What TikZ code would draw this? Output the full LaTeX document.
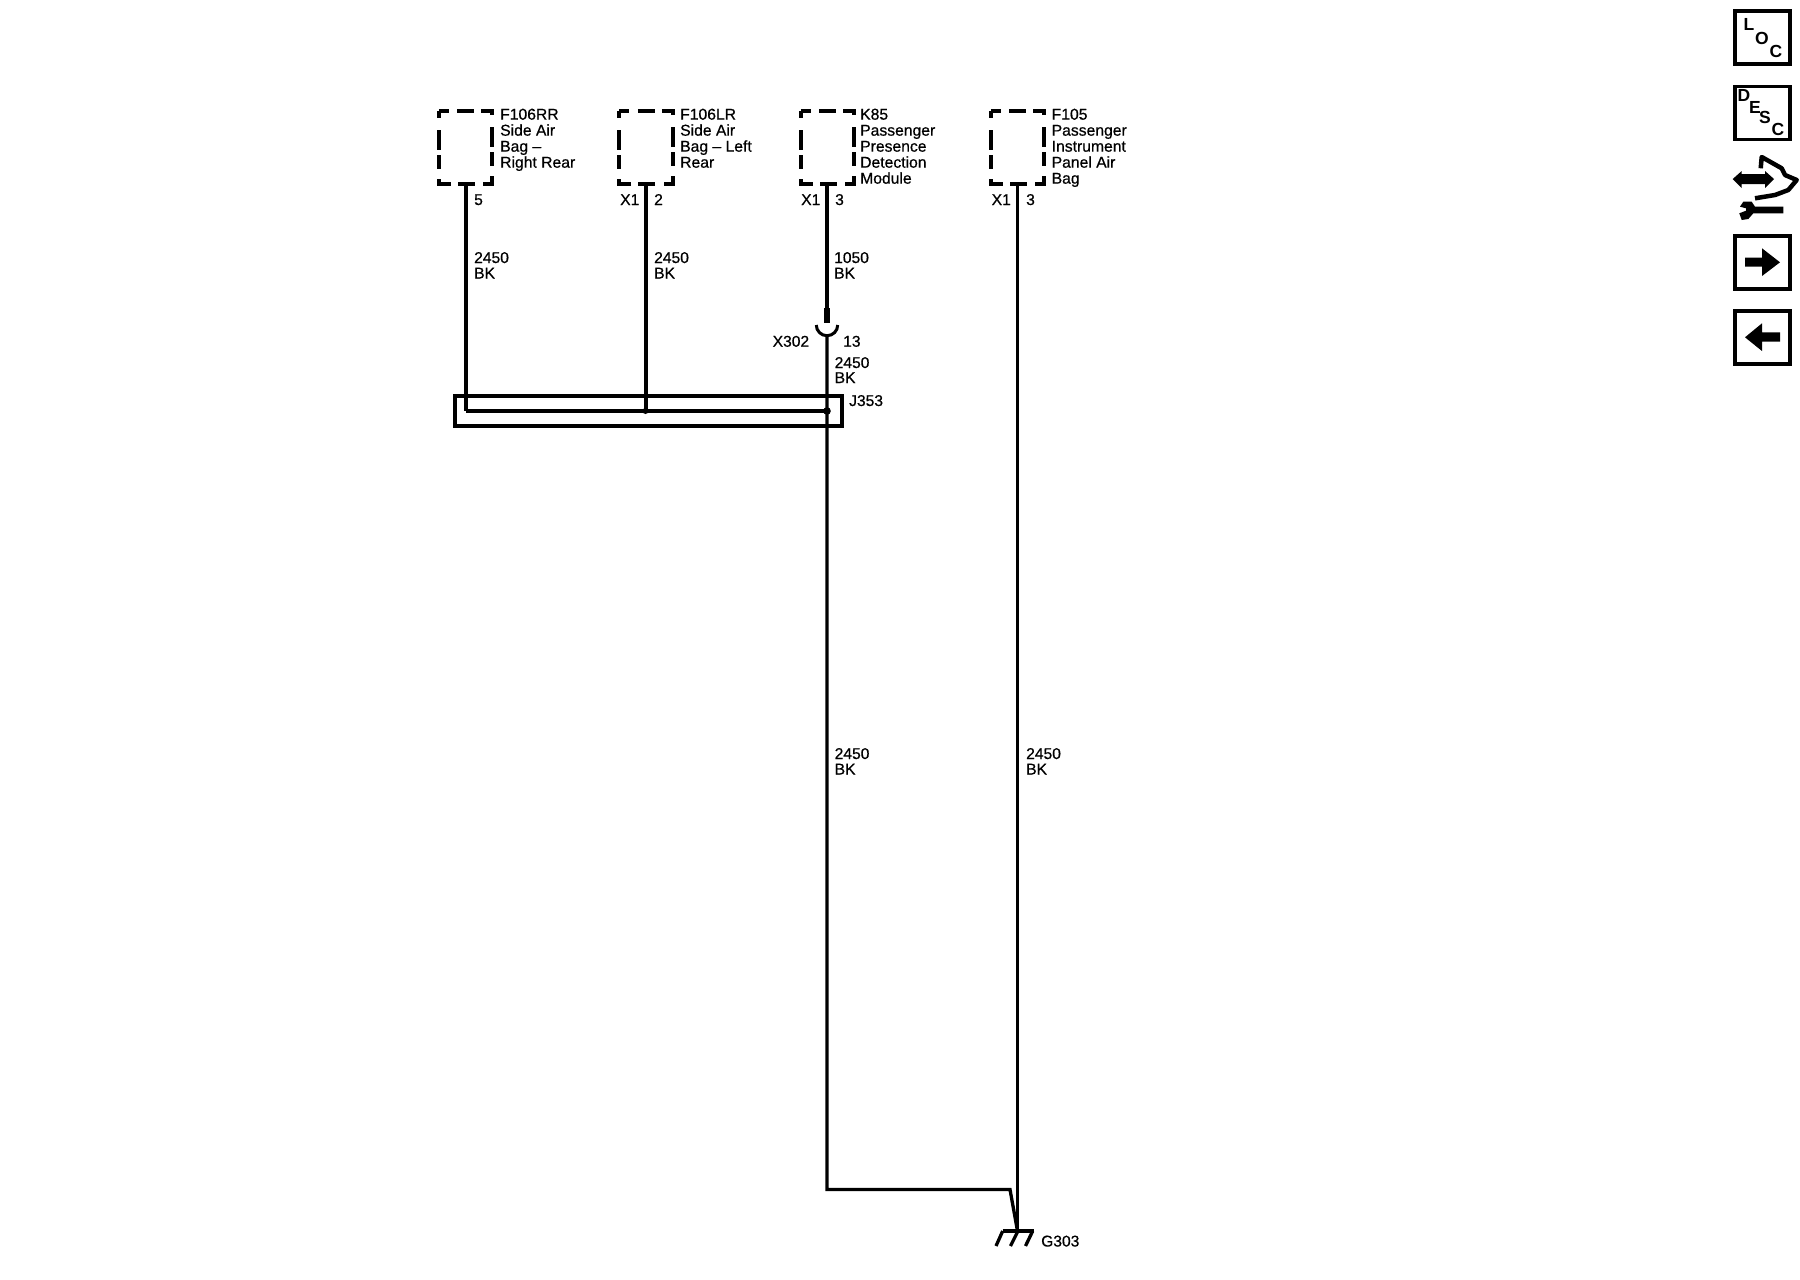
\documentclass[tikz,border=0pt]{standalone}
\usepackage{fontspec}
\setmainfont{Liberation Sans}[FakeBold=0.6]
\newfontfamily\iconfont{Liberation Sans Bold}

\tikzset{
  wire/.style={line width=3.3pt,black},
  heavywire/.style={line width=4pt,black},
  airbag/.style={draw=none,minimum width=53pt,minimum height=72.5pt,inner sep=0pt},
  boxdash/.style={line width=4pt,line join=miter,
    dash pattern=on 10pt off 8.5pt on 17pt off 7pt on 15.5pt off 12pt on 20pt off 5pt on 14pt off 10pt on 16.5pt off 8.5pt on 17pt off 7pt on 16.5pt off 10pt on 14pt off 5pt on 20pt off 12pt on 5pt off 0pt},
  lbl/.style={font=\fontsize{15.6}{16}\selectfont,inner sep=0pt,anchor=base west},
  nametxt/.style={font=\fontsize{15.7}{16}\selectfont,inner sep=0pt,anchor=north west,align=left},
  iconbox/.style={draw,line width=3.3pt,minimum width=55pt,minimum height=53pt,inner sep=0pt},
  iconchar/.style={font=\iconfont\fontsize{17.5}{18}\selectfont,inner sep=0pt}
}

\newcommand{\airbagbox}[2]{
  \node[airbag] (#1) at (#2,147.25) {};
  \draw[boxdash] (#1.north west) -- (#1.north east) -- (#1.south east) -- (#1.south west) -- cycle;
}

\begin{document}
\begin{tikzpicture}[x=1pt,y=-1pt]
  \useasboundingbox (0,0) rectangle (1800,1280);

  % components
  \airbagbox{rr}{465.5}
  \airbagbox{lr}{646}
  \airbagbox{pm}{827.5}
  \airbagbox{ip}{1017.5}
  \node[nametxt] (rrtxt) at (500,108.5) {F106RR\\Side Air\\Bag --\\Right Rear};
  \node[nametxt] (lrtxt) at (680,108.5) {F106LR\\Side Air\\Bag -- Left\\Rear};
  \node[nametxt] (pmtxt) at (860,108.5) {K85\\Passenger\\Presence\\Detection\\Module};
  \node[nametxt] (iptxt) at (1051.5,108.5) {F105\\Passenger\\Instrument\\Panel Air\\Bag};

  % pins
  \node[lbl] (p5) at (474,205) {5};
  \node[lbl] (x1a) at (620,205) {X1};
  \node[lbl] (p2) at (654,205) {2};
  \node[lbl] (x1b) at (801,205) {X1};
  \node[lbl] (p3a) at (835,205) {3};
  \node[lbl] (x1c) at (991.5,205) {X1};
  \node[lbl] (p3b) at (1026,205) {3};

  % splice and connector
  \node[draw,line width=3.3pt,minimum width=387pt,minimum height=30pt,inner sep=0pt] (j353) at (648.5,411) {};
  \coordinate (bus1) at (465.5,411);
  \coordinate (bus2) at (645.5,411);
  \coordinate (bus3) at (827,411);
  \coordinate (x302top) at (827,308);
  \coordinate (x302cup) at (827,335);
  \coordinate (bend) at (827,1189.5);
  \coordinate (bend2) at (1010,1189.5);
  \coordinate (g303) at (1017.5,1231);

  % wires
  \draw[heavywire] (rr.south) -- (bus1);
  \draw[wire,line join=miter] (bus1) -- (bus3);
  \draw[heavywire] (lr.south -| bus2) -- (bus2);
  \draw[line width=3.1pt] (pm.south -| x302top) -- (x302top);
  \draw[line width=6.5pt] (x302top) -- (827,323);
  \draw[line width=3pt] (816.3,325) arc (180:0:10.7);
  \draw[wire] (x302cup) -- (bend) -- (bend2) -- (g303);
  \draw[wire] (ip.south) -- (g303);
  \fill (bus2) circle (3pt);
  \fill (bus3) circle (3.8pt);

  % ground
  \draw[wire] (1002.7,1231) -- (1034,1231);
  \draw[wire] (1002.7,1231) -- (996,1246);
  \draw[wire] (1018,1231) -- (1010.5,1246);
  \draw[wire] (1032.7,1231) -- (1025.5,1246);
  \node[lbl] (g303txt) at (1041,1246.5) {G303};

  % wire labels
  \node[lbl] (w1a) at (474,263) {2450};
  \node[lbl] (w1b) at (474,278.5) {BK};
  \node[lbl] (w2a) at (654,263) {2450};
  \node[lbl] (w2b) at (654,278.5) {BK};
  \node[lbl] (w3a) at (834,263) {1050};
  \node[lbl] (w3b) at (834,278.5) {BK};
  \node[lbl] (x302) at (772.5,346.7) {X302};
  \node[lbl] (p13) at (843,346.7) {13};
  \node[lbl] (w4a) at (834.5,368) {2450};
  \node[lbl] (w4b) at (834.5,383) {BK};
  \node[lbl] (j353txt) at (849,406) {J353};
  \node[lbl] (w5a) at (834.5,759) {2450};
  \node[lbl] (w5b) at (834.5,774.5) {BK};
  \node[lbl] (w6a) at (1026,759) {2450};
  \node[lbl] (w6b) at (1026,774.5) {BK};

  % side icons
  \node[iconbox] (loc) at (1762.5,37.5) {};
  \node[iconchar] (locl) at (1749,24) {L};
  \node[iconchar] (loco) at (1762,38) {O};
  \node[iconchar] (locc) at (1776,51) {C};
  \node[iconbox] (desc) at (1762.5,113) {};
  \node[iconchar] (descd) at (1744,95) {D};
  \node[iconchar] (desce) at (1755,107) {E};
  \node[iconchar] (descs) at (1765,117) {S};
  \node[iconchar] (descc) at (1778,129) {C};

  \fill (1732.7,179) -- (1741.7,171) -- (1741.7,174) -- (1765,174) -- (1765,171) -- (1774,179) -- (1765,188) -- (1765,184) -- (1741.7,184) -- (1741.7,188) -- cycle;
  \draw[line width=4.5pt,line join=round] (1760.7,168.3) -- (1761.7,157) -- (1781.7,168.3) -- (1785,175) -- (1796.7,180) -- (1788.3,190) -- (1775,195) -- (1755,198.3);
  \fill (1783.3,206.7) -- (1783.3,213.3) -- (1753.3,213.3) -- (1748.3,219) -- (1741.7,220) -- (1739.3,213.3) -- (1746,210.7) -- (1746,208.3) -- (1740,206.7) -- (1743.3,201.7) -- (1751.7,201.7) -- (1755,206.7) -- cycle;

  \node[iconbox] (next) at (1762.5,262.5) {};
  \fill (1745,257.7) -- (1762,257.7) -- (1762,248.3) -- (1780,262.3) -- (1762,276) -- (1762,266.7) -- (1745,266.7) -- cycle;
  \node[iconbox] (prev) at (1762.5,337.5) {};
  \fill (1780,332.3) -- (1762,332.3) -- (1762,323.3) -- (1745,337.3) -- (1762,351) -- (1762,341.7) -- (1780,341.7) -- cycle;
\end{tikzpicture}
\end{document}
